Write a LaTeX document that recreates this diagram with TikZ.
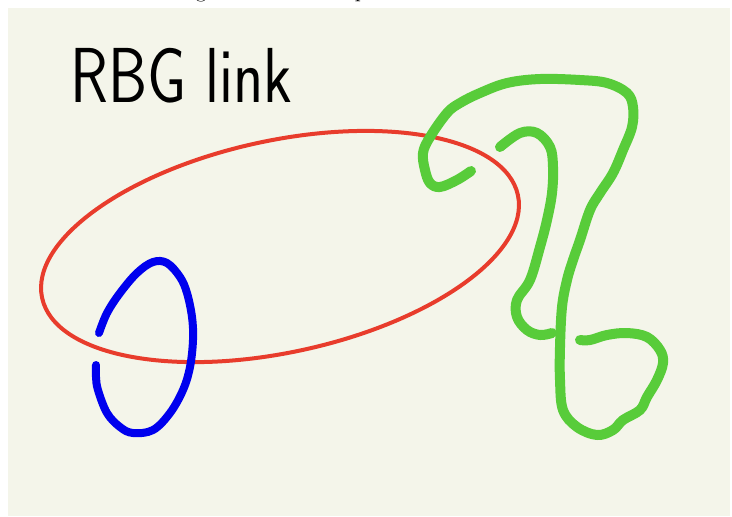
\documentclass[tikz,border=0pt]{standalone}
\usepackage{tikz}
\definecolor{bgcream}{RGB}{244,245,234}
\definecolor{knotred}{RGB}{232,60,44}
\definecolor{knotblue}{RGB}{0,0,238}
\definecolor{knotgreen}{RGB}{88,204,58}
\tikzset{
  redstrand/.style={draw=knotred, line width=2pt},
  bluestrand/.style={draw=knotblue, line width=4pt, line cap=round, line join=round},
  greenstrand/.style={draw=knotgreen, line width=5pt, line cap=round, line join=round},
  handtext/.style={font=\sffamily\fontsize{39}{39}\selectfont, text=black, inner sep=0pt, anchor=base west, xscale=0.8},
  captiontext/.style={font=\fontsize{11}{13}\selectfont, inner sep=0pt, anchor=base}
}
\begin{document}
\begin{tikzpicture}[x=0.5pt, y=-0.5pt]
\useasboundingbox (0,0) rectangle (732,516);
\clip (0,0) rectangle (732,516);
\fill[white] (0,0) rectangle (732,516);
\node[captiontext] (caption) at (355,-3) {Figure 4: An example of an RBG link};
\fill[bgcream] (8,8) rectangle (730,516);
\node[handtext] (title) at (70,102) {RBG link};
% red strand
\draw[redstrand, rotate around={12.2:(280,246.5)}] (280,246.5) ellipse [x radius=243.4, y radius=105.9];
% blue strand
\draw[bluestrand] plot[smooth, tension=0.6] coordinates {
 (99,333) (107,313) (120,293) (137,273) (153,262) (167,263) (180,277) (187,293)
 (192,317) (193,340) (190,367) (183,390) (170,413) (153,430) (133,433) (120,427)
 (107,413) (98,390) (96,377) (96,365)};
% green strand, long piece
\draw[greenstrand] plot[smooth, tension=0.6] coordinates {
 (471,171) (457,180) (440,187) (430,183) (425,170) (423,153) (430,137) (447,113)
 (460,103) (480,93) (507,83) (540,79) (580,80) (607,83) (627,93) (633,107)
 (632,127) (623,150) (613,173) (600,193) (590,210) (580,240) (573,260) (567,280)
 (562,307) (560,347) (560,380) (563,410) (577,427) (597,435) (613,430) (623,420)
 (640,410) (647,397) (657,380) (663,363) (660,350) (647,337) (627,333) (607,335)
 (590,340) (580,340)};
% green strand, inner piece
\draw[greenstrand] plot[smooth, tension=0.6] coordinates {
 (500,147) (520,133) (537,133) (550,147) (553,167) (552,193) (547,220) (540,247)
 (530,280) (517,300) (517,317) (527,330) (540,335) (552,333)};
\end{tikzpicture}
\end{document}
